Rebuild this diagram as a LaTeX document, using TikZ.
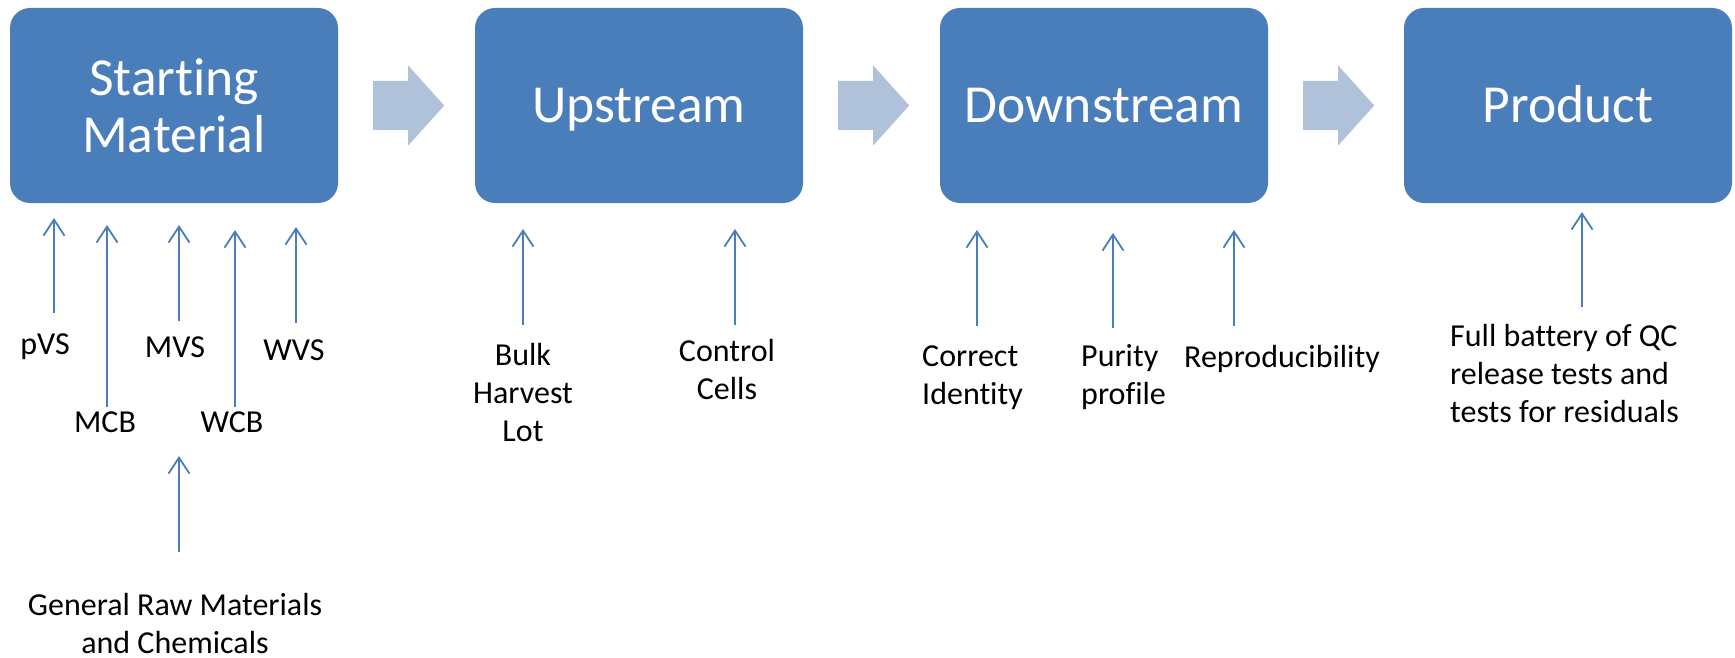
\documentclass[tikz,border=0pt]{standalone}
\usepackage{fontspec}
\setmainfont{Carlito}[Ligatures=NoCommon]
\usetikzlibrary{arrows.meta,calc}
\definecolor{boxblue}{RGB}{74,126,187}
\definecolor{lightarrow}{RGB}{176,193,218}
\definecolor{linkblue}{RGB}{74,126,187}
\begin{document}
\begin{tikzpicture}[x=1pt,y=-1pt,
  stage/.style={rectangle, rounded corners=20pt, fill=boxblue, draw=none,
    minimum width=328pt, minimum height=195pt, inner sep=0pt, text=white,
    font=\fontsize{53.5}{57}\selectfont, align=center},
  oneline/.style={text height=34pt, text depth=0pt},
  bigarrow/.style={fill=lightarrow, draw=none},
  lbl/.style={inner sep=0pt, font=\fontsize{32}{38}\selectfont, text=black},
  inarrow/.style={draw=linkblue, line width=1.8pt,
    -{Straight Barb[length=16pt, width=21pt, line width=1.8pt]}}
]
\useasboundingbox (0,0) rectangle (1735,658);

% stage boxes
\node[stage] (b1) at (174,105.5) {Starting\\Material};
\node[stage, oneline] (b2) at (639,105.5) {Upstream};
\node[stage, oneline] (b3) at (1104,105.5) {Downstream};
\node[stage, oneline] (b4) at (1568,105.5) {Product};

% block arrows between stages
\foreach \a in {b1,b2,b3}{
  \fill[bigarrow] ($(\a.east)+(35,-24.5)$) -- ($(\a.east)+(70,-24.5)$)
    -- ($(\a.east)+(70,-40)$) -- ($(\a.east)+(106,0)$)
    -- ($(\a.east)+(70,40)$) -- ($(\a.east)+(70,24.5)$)
    -- ($(\a.east)+(35,24.5)$) -- cycle;
}

% labels (anchor base = baseline of the last line)
\node[lbl, anchor=base] (pvs) at (45,354) {pVS};
\node[lbl, anchor=base] (mcb) at (105,432) {MCB};
\node[lbl, anchor=base] (mvs) at (175,357) {MVS};
\node[lbl, anchor=base] (wcb) at (232,432) {WCB};
\node[lbl, anchor=base] (wvs) at (294,360) {WVS};
\node[lbl, anchor=base, align=center] (raw) at (175,653) {General Raw Materials\\and Chemicals};
\node[lbl, anchor=base, align=center] (bulk) at (523,441) {Bulk\\Harvest\\Lot};
\node[lbl, anchor=base, align=center] (ctrl) at (727,399) {Control\\Cells};
\node[lbl, anchor=base west, align=left] (ident) at (922,404) {Correct\\Identity};
\node[lbl, anchor=base west, align=left] (pur) at (1081,404) {Purity\\profile};
\node[lbl, anchor=base] (repro) at (1282,367) {Reproducibility};
\node[lbl, anchor=base west, align=left] (qc) at (1450,422) {Full battery of QC\\release tests and\\tests for residuals};

% arrow end points
\coordinate (t1) at (54,313);   \coordinate (h1) at (54,218);
\coordinate (t2) at (107,407);  \coordinate (h2) at (107,225);
\coordinate (t3) at (179,321);  \coordinate (h3) at (179,225);
\coordinate (t4) at (235,407);  \coordinate (h4) at (235,230);
\coordinate (t5) at (296,323);  \coordinate (h5) at (296,227);
\coordinate (t6) at (179,552);  \coordinate (h6) at (179,456);
\coordinate (t7) at (523,325);  \coordinate (h7) at (523,229);
\coordinate (t8) at (735,325);  \coordinate (h8) at (735,229);
\coordinate (t9) at (977,326);  \coordinate (h9) at (977,230);
\coordinate (t10) at (1113,328); \coordinate (h10) at (1113,233);
\coordinate (t11) at (1234,326); \coordinate (h11) at (1234,230);
\coordinate (t12) at (1582,307); \coordinate (h12) at (1582,212);

\foreach \i in {1,...,12}{
  \draw[inarrow] (t\i) -- (h\i);
}
\end{tikzpicture}
\end{document}
